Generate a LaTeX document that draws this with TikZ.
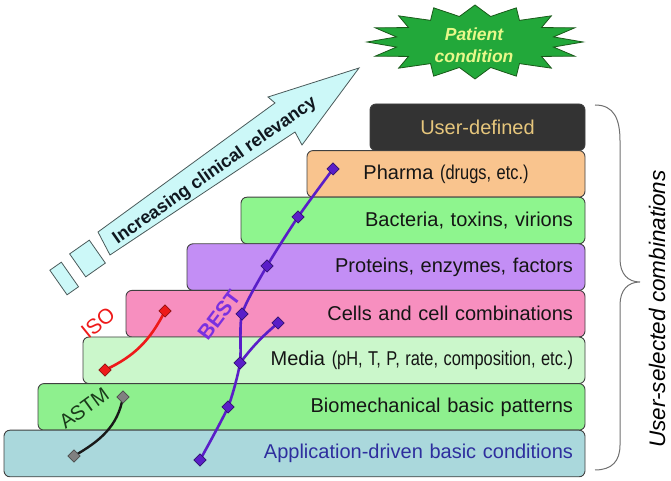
\documentclass[tikz,border=0pt]{standalone}
\usepackage{fontspec}
\setmainfont{Liberation Sans}
\usepackage{graphicx}
\usetikzlibrary{shapes.geometric}
\definecolor{boxline}{HTML}{404040}
\definecolor{boxtext}{HTML}{151515}
\definecolor{cUser}{HTML}{333333}
\definecolor{cUserText}{HTML}{E6C67C}
\definecolor{cPharma}{HTML}{F9C48E}
\definecolor{cBact}{HTML}{8EF58E}
\definecolor{cProt}{HTML}{C38EF5}
\definecolor{cCells}{HTML}{F78FBF}
\definecolor{cMedia}{HTML}{CBF7CB}
\definecolor{cBio}{HTML}{8EF08E}
\definecolor{cApp}{HTML}{AAD8DC}
\definecolor{cAppText}{HTML}{2E2E9E}
\definecolor{arrowfill}{HTML}{CCF8F8}
\definecolor{arrowline}{HTML}{4A5A5A}
\definecolor{arrowtext}{HTML}{101820}
\definecolor{burstgreen}{HTML}{22A83A}
\definecolor{burstline}{HTML}{1A5A1A}
\definecolor{bursttext}{HTML}{E8F88A}
\definecolor{bestline}{HTML}{5A1EC8}
\definecolor{bestedge}{HTML}{301070}
\definecolor{besttext}{HTML}{7A30E0}
\definecolor{isored}{HTML}{EE1A1A}
\definecolor{isoedge}{HTML}{901010}
\definecolor{astmtext}{HTML}{1A3A1A}
\definecolor{astmgray}{HTML}{808080}
\definecolor{bracegray}{HTML}{707070}
\begin{document}
\begin{tikzpicture}[x=1pt,y=1pt,
  layer/.style={draw=boxline, line width=0.9pt, rounded corners=6pt,
    minimum height=46.6pt, inner xsep=12pt, inner ysep=0pt,
    font=\fontsize{20}{24}\selectfont, text=boxtext},
  dmd/.style={rectangle, rotate=45, minimum size=8.5pt, inner sep=0pt, line width=0.7pt},
  bestdmd/.style={dmd, fill=bestline, draw=bestedge},
  isodmd/.style={dmd, fill=isored, draw=isoedge},
  astmdmd/.style={dmd, fill=astmgray, draw=black!70},
  bestpath/.style={draw=bestline, line width=2.6pt, line cap=round},
  isopath/.style={draw=isored, line width=2.6pt, line cap=round},
  astmpath/.style={draw=black!90, line width=2.4pt, line cap=round},
  arrowpart/.style={draw=arrowline, fill=arrowfill, line width=0.8pt, line join=miter}
]
\useasboundingbox (0,0) rectangle (671,481);

% starburst
\filldraw[fill=burstgreen, draw=burstline, line width=0.8pt]
  plot[samples=33, domain=0:32, variable=\k]
  ({475+ifthenelse(mod(round(\k),2)==0,108,80)*cos(\k*11.25)},
   {439+ifthenelse(mod(round(\k),2)==0,37,26)*sin(\k*11.25)}) -- cycle;
\node[align=center, font=\bfseries\itshape\fontsize{17.5}{22}\selectfont, text=bursttext]
  (patient) at (474,436) {Patient\\condition};

% big arrow
\draw[arrowpart] (98,249) -- (275,378) -- (268,384) -- (359,413) -- (302,336)
  -- (295,349) -- (110,226) -- cycle;
\node[rotate=35, font=\bfseries\fontsize{18}{20}\selectfont, text=arrowtext]
  (incr) at (215,310) {Increasing clinical relevancy};
\node[arrowpart, rectangle, rotate=35, minimum width=24pt, minimum height=28pt, inner sep=0pt]
  (sq1) at (87.5,222.5) {};
\node[arrowpart, rectangle, rotate=35, minimum width=14pt, minimum height=30pt, inner sep=0pt]
  (sq2) at (64.2,202.5) {};

% layers
\node[layer, fill=cUser, text=cUserText, text width=191pt, align=center] (user) at (477.5,353.7) {User-defined};
\node[layer, fill=cPharma, text width=254pt, align=center] (pharma) at (446,307.1)
  {Pharma \scalebox{0.82}[1]{(drugs, etc.)}};
\node[layer, fill=cBact, text width=320pt, align=right] (bact) at (413,260.5) {Bacteria, toxins, virions};
\node[layer, fill=cProt, text width=374pt, align=right] (prot) at (386,213.9) {Proteins, enzymes, factors};
\node[layer, fill=cCells, text width=435pt, align=right] (cells) at (355.5,167.3) {Cells and cell combinations};
\node[layer, fill=cMedia, text width=478pt, align=right] (media) at (334,120.7)
  {Media \scalebox{0.82}[1]{(pH, T, P, rate, composition, etc.)}};
\node[layer, fill=cBio, text width=523pt, align=right] (bio) at (311.5,74.1) {Biomechanical basic patterns};
\node[layer, fill=cApp, text=cAppText, text width=557pt, align=right] (app) at (294.5,27.5) {Application-driven basic conditions};

% brace
\draw[draw=bracegray, line width=1pt] (595,376) .. controls (614,376) and (620,362) .. (620,340)
  -- (620,222) .. controls (620,207) and (628,199) .. (640,199)
  .. controls (628,199) and (620,191) .. (620,176)
  -- (620,36) .. controls (620,20) and (612,11) .. (595,11);
\node[rotate=90, font=\itshape\fontsize{22.5}{26}\selectfont, text=black, inner sep=1pt] (usc) at (657,172) {User-selected combinations};

% points
\coordinate (b1) at (200,21);
\coordinate (b2) at (228,74);
\coordinate (b3) at (240,118);
\coordinate (b4) at (242,167);
\coordinate (b5) at (267,215);
\coordinate (b6) at (298,264);
\coordinate (b7) at (333,312);
\coordinate (b8) at (278,158);
\coordinate (i1) at (105,111);
\coordinate (i2) at (165,170);
\coordinate (a1) at (123,84);
\coordinate (a2) at (74,25);

% connectors
\draw[bestpath] plot[smooth, tension=0.4] coordinates {(b1) (b2) (b3) (b4) (b5) (b6) (b7)};
\draw[bestpath] (b3) to[bend left=6] (b8);
\draw[isopath] (i1) to[out=25, in=-117] (i2);
\draw[astmpath] (a1) to[out=-100, in=30] (a2);

% markers
\foreach \p in {b1,b2,b3,b4,b5,b6,b7,b8} \node[bestdmd] (d\p) at (\p) {};
\node[isodmd] (di1) at (i1) {};
\node[isodmd] (di2) at (i2) {};
\node[astmdmd] (da1) at (a1) {};
\node[astmdmd] (da2) at (a2) {};

% labels
\node[rotate=39, text=isored, font=\fontsize{21}{24}\selectfont] (iso) at (98,158) {ISO};
\node[rotate=36, text=astmtext, font=\fontsize{20}{24}\selectfont] (astm) at (84,73) {ASTM};
\node[rotate=53, text=besttext, font=\bfseries\fontsize{21}{24}\selectfont] (best) at (219,166) {BEST};
\end{tikzpicture}
\end{document}
